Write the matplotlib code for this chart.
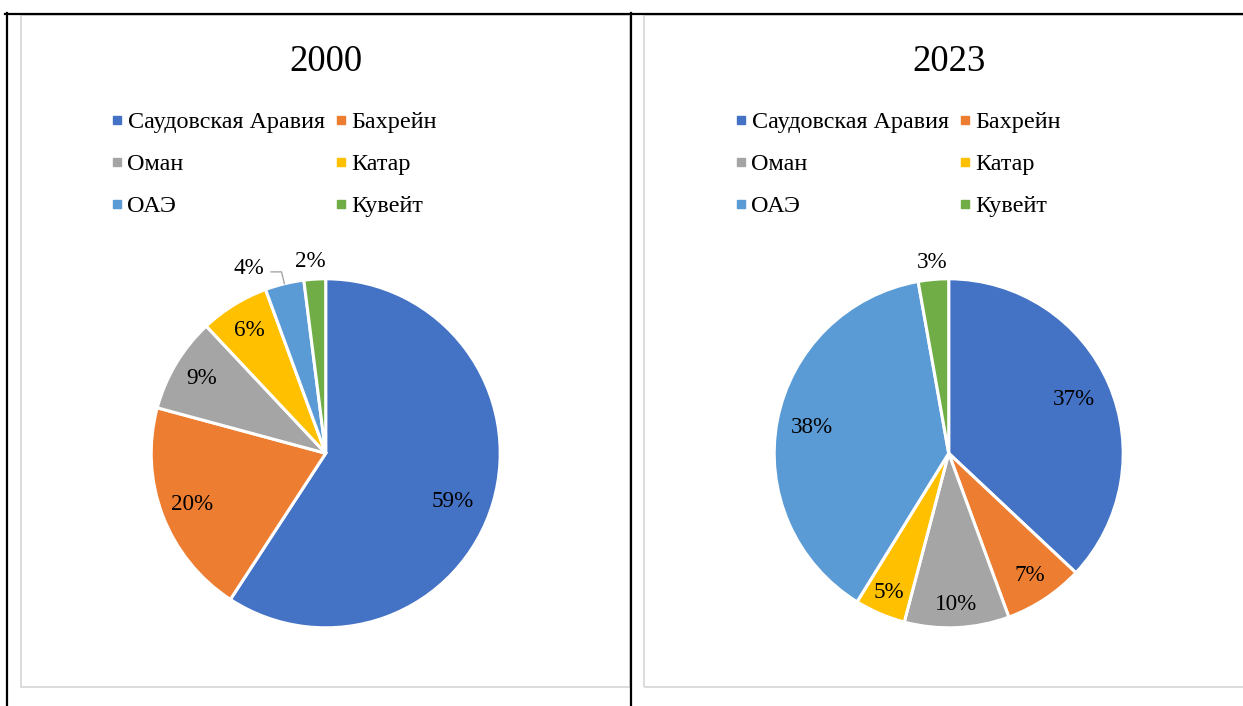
import matplotlib
matplotlib.use("Agg")
import matplotlib.pyplot as plt
import numpy as np
from matplotlib.lines import Line2D
from matplotlib.patches import Rectangle

# ---- data ----
countries = ["Саудовская Аравия", "Бахрейн", "Оман", "Катар", "ОАЭ", "Кувейт"]
years = ["2000", "2023"]
shares_2000 = [59.2, 20.0, 8.8, 6.4, 3.6, 2.0]
shares_2023 = [37.0, 7.4, 9.7, 4.7, 38.4, 2.8]

# ---- style ----
colors = ["#4472C4", "#ED7D31", "#A5A5A5", "#FFC000", "#5B9BD5", "#70AD47"]
FONT = "Liberation Serif"
W, H = 1243, 706
label_r_2000 = [0.78, 0.82, 0.83, 0.83, None, 1.10]   # None -> leader line label
label_r_2023 = [0.78, 0.84, 0.87, 0.87, 0.80, 1.10]
label_rot_2000 = [-4, 0, 0, 0, 0, 1]   # small angular nudges (deg) like Excel best-fit
label_rot_2023 = [0, 0, 0, 0, 0, 0]

fig = plt.figure(figsize=(W / 100, H / 100), dpi=100)
fig.patch.set_facecolor("white")


def fx(x):
    return x / W


def fy(y):
    return 1 - y / H


# table borders (black) and chart-area borders (light gray)
for (x0, y0, x1, y1) in [(5, 13.5, W, 13.5), (6.5, 13, 6.5, H), (630.5, 13, 630.5, H)]:
    fig.add_artist(Line2D([fx(x0), fx(x1)], [fy(y0), fy(y1)], color="black", lw=1.6,
                          transform=fig.transFigure, zorder=5))
for (x0, y0, x1, y1) in [(20.5, 15, 630, 687), (644, 15, W + 5, 687)]:
    fig.add_artist(Rectangle((fx(x0), fy(y1)), fx(x1 - x0), (y1 - y0) / H, fill=False,
                             edgecolor="#D9D9D9", lw=1.3, transform=fig.transFigure, zorder=4))

panels = [
    dict(year=years[0], vals=shares_2000, cx=325.7, lr=label_r_2000, rot=label_rot_2000, legx=113),
    dict(year=years[1], vals=shares_2023, cx=948.7, lr=label_r_2023, rot=label_rot_2023, legx=737),
]
cy, R = 453.3, 174.5

# legend fills column by column; reorder so rows read like the reference
order = [0, 2, 4, 1, 3, 5]

for p in panels:
    cx = p["cx"]
    ax = fig.add_axes([fx(cx - R), fy(cy + R), 2 * R / W, 2 * R / H])
    wedges, _ = ax.pie(p["vals"], colors=colors, startangle=90, counterclock=False,
                       wedgeprops=dict(edgecolor="white", linewidth=2.2))
    ax.set_xlim(-1, 1)
    ax.set_ylim(-1, 1)
    ax.set_aspect("equal")
    ax.axis("off")
    for w, v, r, rot in zip(wedges, p["vals"], p["lr"], p["rot"]):
        mid = np.deg2rad((w.theta1 + w.theta2) / 2)
        txt = f"{v:.0f}%"
        if r is None:
            ex, ey = np.cos(mid), np.sin(mid)
            bx, by = 1.07 * np.cos(mid), 1.07 * np.sin(mid)
            ax.plot([ex, bx, bx - 0.06], [ey, by, by], color="#A6A6A6", lw=1.0,
                    clip_on=False)
            ax.text(bx - 0.1, by + 0.02, txt, ha="right", va="center", fontsize=16.7,
                    family=FONT, clip_on=False)
        else:
            a = mid + np.deg2rad(rot)
            ax.text(r * np.cos(a), r * np.sin(a), txt, ha="center", va="center",
                    fontsize=16.7, family=FONT, clip_on=False)

    fig.text(fx(cx), fy(71), p["year"], ha="center", va="baseline", fontsize=26.5,
             family=FONT)

    handles = [Line2D([], [], marker="s", ls="", color=c, markersize=5.2) for c in colors]
    fig.legend([handles[i] for i in order], [countries[i] for i in order], ncol=2,
               loc="upper left",
               bbox_to_anchor=(fx(p["legx"]), fy(111.5)), bbox_transform=fig.transFigure,
               frameon=False, prop=dict(family=FONT, size=17.4), borderpad=0,
               handlelength=0.35, handletextpad=0.25, columnspacing=0.52,
               labelspacing=0.83, borderaxespad=0)

fig.savefig("out.png", dpi=100, facecolor="white")
